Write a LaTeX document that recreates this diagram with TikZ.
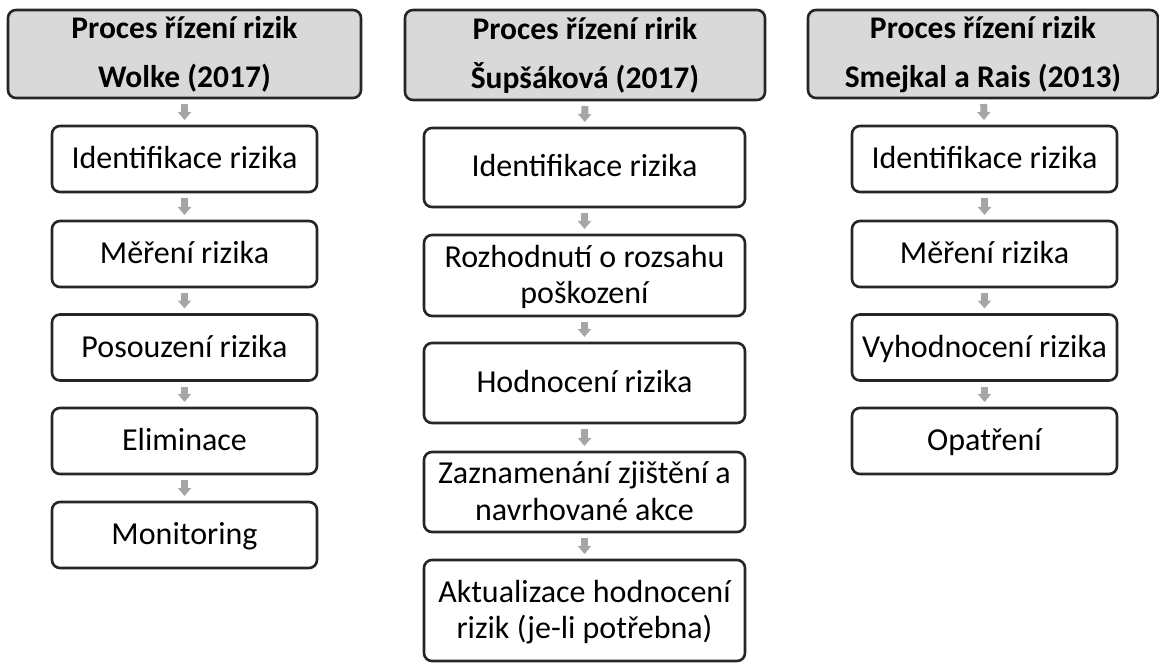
\documentclass[tikz,border=0pt]{standalone}
\usepackage{fontspec}
\setmainfont{Carlito}
\usetikzlibrary{arrows.meta}
\definecolor{hdrfill}{HTML}{D9D9D9}
\definecolor{edgeline}{HTML}{262626}
\definecolor{arrowgray}{HTML}{A6A6A6}
\begin{document}
\begin{tikzpicture}[x=1pt,y=-1pt,
  box/.style={draw=edgeline, line width=2.6pt, rounded corners=8pt, fill=white,
    align=center, inner sep=0pt, outer sep=0pt, text=black,
    font=\fontsize{32}{36.5}\selectfont},
  oneline/.style={box, text height=26pt, text depth=7pt},
  twoline/.style={box, text depth=2pt},
  header/.style={box, fill=hdrfill, text depth=3.5pt,
    font=\bfseries\fontsize{31.5}{49}\selectfont},
  flowarrow/.style={draw=arrowgray, line width=7pt,
    -{Triangle[length=8pt,width=13pt]}, shorten <=6pt, shorten >=6pt}
]
\useasboundingbox (0,0) rectangle (1159,663);

% Wolke (2017)
\node[header, minimum width=353pt, minimum height=88pt] (w0) at (184.5,54)
  {Proces řízení rizik\\Wolke (2017)};
\node[oneline, minimum width=265pt, minimum height=66pt] (w1) at (184.5,159) {Identifikace rizika};
\node[oneline, minimum width=265pt, minimum height=66pt] (w2) at (184.5,254) {Měření rizika};
\node[oneline, minimum width=265pt, minimum height=66pt] (w3) at (184.5,347.5) {Posouzení rizika};
\node[oneline, minimum width=265pt, minimum height=66pt] (w4) at (184.5,441) {Eliminace};
\node[oneline, minimum width=265pt, minimum height=66pt] (w5) at (184.5,535) {Monitoring};

% Šupšáková (2017)
\node[header, minimum width=360pt, minimum height=90pt] (s0) at (585,55)
  {Proces řízení ririk\\Šupšáková (2017)};
\node[oneline, minimum width=321pt, minimum height=79pt] (s1) at (584.5,167.5) {Identifikace rizika};
\node[twoline, minimum width=321pt, minimum height=81pt] (s2) at (584.5,275.5) {Rozhodnutí o rozsahu\\poškození};
\node[oneline, minimum width=321pt, minimum height=80pt] (s3) at (584.5,383) {Hodnocení rizika};
\node[twoline, minimum width=321pt, minimum height=80pt] (s4) at (584.5,492) {Zaznamenání zjištění a\\navrhované akce};
\node[twoline, minimum width=321pt, minimum height=101pt] (s5) at (584.5,610.5) {Aktualizace hodnocení\\rizik (je-li potřebna)};

% Smejkal a Rais (2013)
\node[header, minimum width=350pt, minimum height=88pt] (r0) at (983,54)
  {Proces řízení rizik\\Smejkal a Rais (2013)};
\node[oneline, minimum width=265pt, minimum height=66pt] (r1) at (984.5,159) {Identifikace rizika};
\node[oneline, minimum width=265pt, minimum height=66pt] (r2) at (984.5,254) {Měření rizika};
\node[oneline, minimum width=265pt, minimum height=66pt] (r3) at (984.5,347.5) {Vyhodnocení rizika};
\node[oneline, minimum width=265pt, minimum height=66pt] (r4) at (984.5,441) {Opatření};

% connectors
\foreach \a/\b in {w0/w1,w1/w2,w2/w3,w3/w4,w4/w5,
                   s0/s1,s1/s2,s2/s3,s3/s4,s4/s5,
                   r0/r1,r1/r2,r2/r3,r3/r4}
  \draw[flowarrow] (\a) -- (\b);
\end{tikzpicture}
\end{document}
